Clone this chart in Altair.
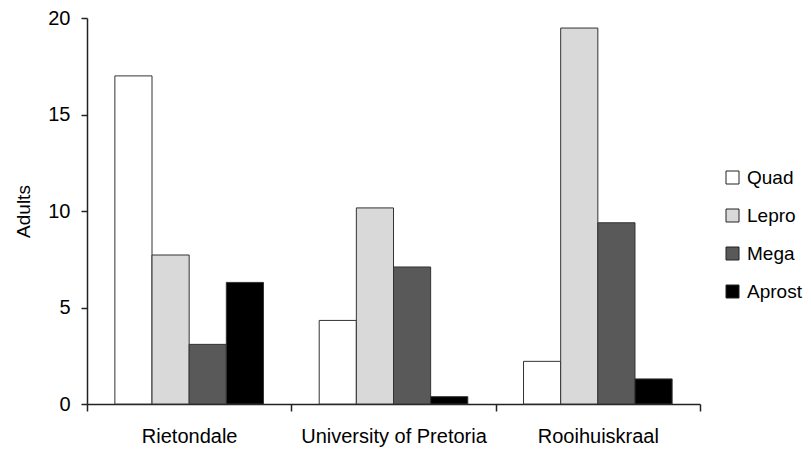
import altair as alt
import pandas as pd

sites = ["Rietondale", "University of Pretoria", "Rooihuiskraal"]
species = ["Quad", "Lepro", "Mega", "Aprost"]
quad = [17.0, 4.33, 2.21]
lepro = [7.72, 10.16, 19.48]
mega = [3.09, 7.10, 9.39]
aprost = [6.30, 0.38, 1.30]
colors = ["#ffffff", "#d9d9d9", "#595959", "#000000"]

rows = []
for i, s in enumerate(sites):
    for sp, vals in zip(species, [quad, lepro, mega, aprost]):
        rows.append({"Site": s, "Species": sp, "Adults": vals[i]})
df = pd.DataFrame(rows)

FONT = "Liberation Sans"

chart = alt.Chart(df).mark_bar(stroke="#333333", strokeWidth=1).encode(
    x=alt.X("Site:N", sort=sites, title=None,
            scale=alt.Scale(paddingInner=0, paddingOuter=0),
            axis=alt.Axis(labelAngle=0, tickBand="extent", tickSize=7,
                          labelPadding=15, labelFontSize=20, labelFont=FONT,
                          labelLimit=400,
                          labelColor="#000000", domainColor="#222222",
                          tickColor="#222222", domainWidth=1.5, tickWidth=1.5)),
    xOffset=alt.XOffset("Species:N", sort=species,
                        scale=alt.Scale(paddingInner=0, paddingOuter=0.75)),
    y=alt.Y("Adults:Q", title="Adults",
            scale=alt.Scale(domain=[0, 20], nice=False),
            axis=alt.Axis(values=[0, 5, 10, 15, 20], tickSize=6, grid=False,
                          labelPadding=11, labelFontSize=20, labelFont=FONT,
                          labelColor="#000000", titleFont=FONT, titleFontSize=19,
                          titleFontWeight="normal", titleColor="#000000",
                          titlePadding=14, domainColor="#222222",
                          tickColor="#222222", domainWidth=1.5, tickWidth=1.5)),
    fill=alt.Fill("Species:N", sort=species,
                  scale=alt.Scale(domain=species, range=colors),
                  legend=alt.Legend(title=None, orient="none", legendX=636, legendY=150,
                                    symbolType="square", symbolSize=169,
                                    symbolStrokeColor="#222222", symbolStrokeWidth=1,
                                    symbolOpacity=1, labelFont=FONT, labelFontSize=19,
                                    labelColor="#000000", labelOffset=5, rowPadding=18,
                                    padding=0)),
).properties(
    width=613, height=386,
    autosize=alt.AutoSizeParams(type="none"),
    padding={"left": 79, "top": 10, "right": 103, "bottom": 46},
).configure_view(stroke=None)

chart.save("out.html", embed_options={"renderer": "svg", "actions": False})
